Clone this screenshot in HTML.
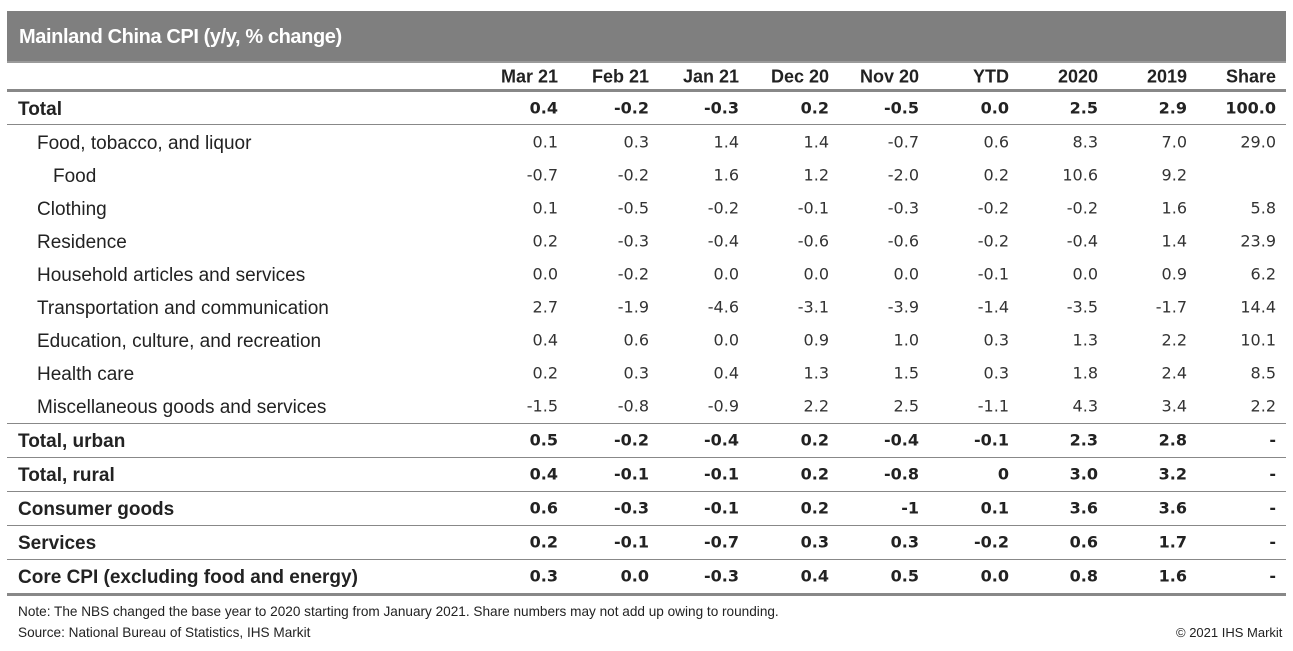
<!DOCTYPE html><html><head><style>
body{margin:0;width:1293px;height:651px;background:#fff;position:relative;overflow:hidden;font-family:"Liberation Sans",Arial,sans-serif;color:#222}
.bar{position:absolute;left:7px;top:11px;width:1279px;height:50px;background:#7f7f7f;border-bottom:2px solid #9a9a9a}
.bar span{position:absolute;left:12px;top:15px;font-size:20px;font-weight:bold;color:#fff;letter-spacing:-0.4px}
.l{position:absolute;font-size:19px;white-space:nowrap;transform:translateY(-50%)}
.b{font-weight:bold}
.v{position:absolute;font-family:"DejaVu Sans",Verdana,sans-serif;font-size:16px;transform:translate(-100%,-50%);white-space:nowrap;color:#333}
.vb{font-weight:bold;color:#222}
.h{position:absolute;font-size:18px;font-weight:bold;transform:translate(-100%,-50%);white-space:nowrap}
.hr{position:absolute;left:7px;width:1279px;height:1px;background:#888}
.n{position:absolute;font-size:13.6px;color:#222}
</style></head><body>
<div class="bar"><span>Mainland China CPI (y/y, % change)</span></div>
<div class="hr" style="top:89px;height:3px;background:#888"></div>
<div class="hr" style="top:124px"></div>
<div class="hr" style="top:423px"></div>
<div class="hr" style="top:457px"></div>
<div class="hr" style="top:491px"></div>
<div class="hr" style="top:525px"></div>
<div class="hr" style="top:559px"></div>
<div class="hr" style="top:593px;height:3px;background:#888"></div>
<div id="c"></div>
<div class="n" style="left:18px;top:604px">Note: The NBS changed the base year to 2020 starting from January 2021. Share numbers may not add up owing to rounding.</div>
<div class="n" style="left:18px;top:625px">Source: National Bureau of Statistics, IHS Markit</div>
<div class="n" style="left:1176px;top:625px;font-size:13px">© 2021 IHS Markit</div>
<script>
var xs=[558,649,739,829,919,1009,1098,1187,1276];
var hd=["Mar 21","Feb 21","Jan 21","Dec 20","Nov 20","YTD","2020","2019","Share"];
var rows=[
["Total",18,1,108,"0.4 -0.2 -0.3 0.2 -0.5 0.0 2.5 2.9 100.0"],
["Food, tobacco, and liquor",37,0,142,"0.1 0.3 1.4 1.4 -0.7 0.6 8.3 7.0 29.0"],
["Food",53,0,175,"-0.7 -0.2 1.6 1.2 -2.0 0.2 10.6 9.2 "],
["Clothing",37,0,208,"0.1 -0.5 -0.2 -0.1 -0.3 -0.2 -0.2 1.6 5.8"],
["Residence",37,0,241,"0.2 -0.3 -0.4 -0.6 -0.6 -0.2 -0.4 1.4 23.9"],
["Household articles and services",37,0,274,"0.0 -0.2 0.0 0.0 0.0 -0.1 0.0 0.9 6.2"],
["Transportation and communication",37,0,307,"2.7 -1.9 -4.6 -3.1 -3.9 -1.4 -3.5 -1.7 14.4"],
["Education, culture, and recreation",37,0,340,"0.4 0.6 0.0 0.9 1.0 0.3 1.3 2.2 10.1"],
["Health care",37,0,373,"0.2 0.3 0.4 1.3 1.5 0.3 1.8 2.4 8.5"],
["Miscellaneous goods and services",37,0,406,"-1.5 -0.8 -0.9 2.2 2.5 -1.1 4.3 3.4 2.2"],
["Total, urban",18,1,440,"0.5 -0.2 -0.4 0.2 -0.4 -0.1 2.3 2.8 -"],
["Total, rural",18,1,474,"0.4 -0.1 -0.1 0.2 -0.8 0 3.0 3.2 -"],
["Consumer goods",18,1,508,"0.6 -0.3 -0.1 0.2 -1 0.1 3.6 3.6 -"],
["Services",18,1,542,"0.2 -0.1 -0.7 0.3 0.3 -0.2 0.6 1.7 -"],
["Core CPI (excluding food and energy)",18,1,576,"0.3 0.0 -0.3 0.4 0.5 0.0 0.8 1.6 -"]];
var h="";
hd.forEach(function(t,i){h+='<div class="h" style="left:'+xs[i]+'px;top:77px">'+t+'</div>';});
rows.forEach(function(r){
h+='<div class="l'+(r[2]?' b':'')+'" style="left:'+r[1]+'px;top:'+(r[3]+2)+'px">'+r[0]+'</div>';
r[4].split(" ").forEach(function(v,i){h+='<div class="v'+(r[2]?' vb':'')+'" style="left:'+xs[i]+'px;top:'+r[3]+'px">'+v+'</div>';});
});
document.getElementById("c").innerHTML=h;
</script>
</body></html>
